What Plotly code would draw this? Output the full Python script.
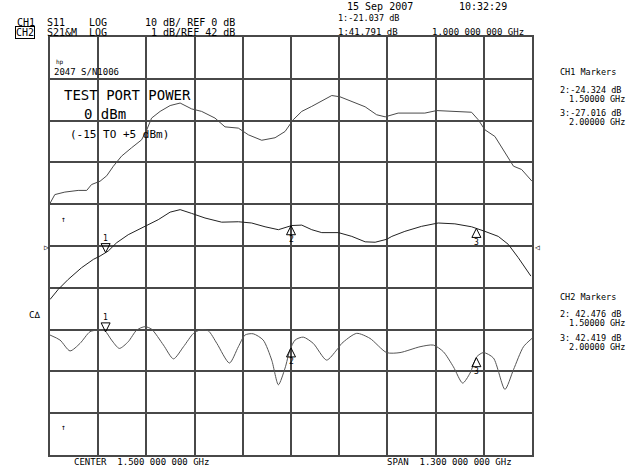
import numpy as np
import plotly.graph_objects as go

# ---------------- data ----------------
center_ghz = 1.5
span_ghz = 1.3
f_start = center_ghz - span_ghz / 2
f_stop = center_ghz + span_ghz / 2

# CH1 (10 dB/div, REF 0 dB) - upper trace
ch1_a_freq = [0.850, 0.863, 0.890, 0.926, 0.949, 0.962, 0.985, 1.003, 1.021, 1.043,
              1.070, 1.097, 1.111, 1.124, 1.147, 1.174, 1.201, 1.232, 1.259, 1.295,
              1.322, 1.358, 1.385, 1.421, 1.457, 1.484, 1.506, 1.529, 1.556, 1.587,
              1.610, 1.632, 1.664, 1.700, 1.731, 1.754, 1.789, 1.826, 1.861, 1.893,
              1.933, 1.969, 1.987, 2.005, 2.023, 2.050, 2.077, 2.100, 2.122, 2.150]
ch1_a_db = [10.2, 12.3, 12.9, 13.3, 13.3, 14.7, 15.5, 16.8, 19.1, 21.5,
            23.5, 25.4, 27.8, 30.6, 32.2, 33.6, 34.2, 32.8, 32.2, 30.6,
            28.5, 28.2, 26.6, 25.3, 25.9, 27.4, 30.2, 32.2, 33.4, 35.0,
            36.0, 35.7, 34.6, 33.3, 31.4, 30.9, 31.8, 31.8, 31.8, 32.4,
            32.2, 32.2, 32.0, 30.2, 27.8, 26.2, 22.3, 19.1, 18.3, 15.5]

# CH1 - middle trace (markers 1..3)
ch1_b_freq = [0.850, 0.872, 0.899, 0.935, 0.967, 0.985, 1.007, 1.030, 1.061, 1.097,
              1.142, 1.174, 1.201, 1.232, 1.268, 1.313, 1.358, 1.394, 1.430, 1.466,
              1.502, 1.529, 1.556, 1.583, 1.628, 1.664, 1.700, 1.727, 1.758, 1.772,
              1.807, 1.852, 1.897, 1.942, 1.987, 2.023, 2.059, 2.086, 2.113, 2.147]
ch1_b_db = [-12.8, -10.4, -8.0, -5.2, -3.2, -2.4, -1.2, 0.8, 2.7, 4.3,
            6.3, 8.1, 8.7, 7.8, 6.7, 5.7, 5.8, 5.5, 4.6, 3.9,
            4.9, 5.0, 3.9, 3.2, 3.2, 2.3, 1.0, 0.9, 1.6, 2.3,
            3.5, 4.7, 5.5, 5.3, 4.6, 3.5, 2.3, 0.4, -2.8, -7.2]

# CH2 S21 (1 dB/div, REF 42 dB)
ch2_freq = [0.850, 0.877, 0.904, 0.931, 0.958, 0.980, 0.998, 1.016, 1.037, 1.061,
            1.084, 1.106, 1.124, 1.156, 1.183, 1.210, 1.237, 1.255, 1.277, 1.300,
            1.334, 1.358, 1.376, 1.398, 1.425, 1.448, 1.466, 1.484, 1.497, 1.511,
            1.533, 1.560, 1.596, 1.623, 1.637, 1.677, 1.713, 1.758, 1.794, 1.848,
            1.884, 1.911, 1.938, 1.963, 1.983, 2.001, 2.019, 2.046, 2.077, 2.100,
            2.127, 2.150]
ch2_db = [41.87, 41.75, 41.49, 41.67, 41.95, 41.99, 41.97, 41.75, 41.55, 41.71,
          41.99, 42.07, 42.01, 41.63, 41.30, 41.59, 41.91, 41.99, 41.97, 41.67,
          41.20, 41.59, 41.87, 41.90, 41.75, 41.27, 40.68, 41.08, 41.51, 41.75,
          41.82, 41.67, 41.27, 41.51, 41.67, 41.91, 41.79, 41.45, 41.45, 41.59,
          41.63, 41.47, 41.11, 40.72, 40.96, 41.35, 41.45, 41.32, 40.57, 41.04,
          41.59, 41.79]

marker_freq = [1.0, 1.5, 2.0]
marker_label = ["1", "2", "3"]

# ---------------- layout constants ----------------
W, H = 639, 468
L, R, T, B = 50, 532, 37, 455
MONO = "DejaVu Sans Mono"
GRID = "#484848"


def px(x):
    return (x - L) / (R - L)


def py(y):
    return (B - y) / (B - T)


fig = go.Figure()
fig.add_trace(go.Scatter(x=ch1_a_freq, y=ch1_a_db, mode="lines",
                         line=dict(color="#4a4a4a", width=1), yaxis="y"))
fig.add_trace(go.Scatter(x=ch1_b_freq, y=ch1_b_db, mode="lines",
                         line=dict(color="#222222", width=1), yaxis="y"))
fig.add_trace(go.Scatter(x=ch2_freq, y=ch2_db, mode="lines",
                         line=dict(color="#555555", width=1, shape="spline", smoothing=0.7),
                         yaxis="y2"))

shapes = []
annotations = []


def add_marker(f, label, yval, yref, down):
    if down:
        path = "M0,0 L-4.5,9 L4.5,9 Z"
        shift = 14
    else:
        path = "M0,0 L-4.5,-9 L4.5,-9 Z"
        shift = -14
    shapes.append(dict(type="path", path=path, xref="x", yref=yref,
                       xsizemode="pixel", ysizemode="pixel",
                       xanchor=f, yanchor=yval,
                       line=dict(color="#000", width=1), fillcolor="rgba(0,0,0,0)"))
    annotations.append(dict(x=f, y=yval, xref="x", yref=yref, text=label,
                            showarrow=False, yshift=shift,
                            font=dict(family=MONO, size=8, color="#000")))


for i, f in enumerate(marker_freq):
    v1 = float(np.interp(f, ch1_b_freq, ch1_b_db))
    add_marker(f, marker_label[i], v1, "y", i == 0)
    v2 = float(np.interp(f, ch2_freq, ch2_db))
    add_marker(f, marker_label[i], v2, "y2", i == 0)


def txt(x, y, s, size=9.5, boxed=False, family=MONO):
    d = dict(x=px(x), y=py(y), xref="paper", yref="paper", text=s,
             showarrow=False, xanchor="left", yanchor="middle",
             font=dict(family=family, size=size, color="#000"))
    if boxed:
        d.update(bordercolor="#000", borderwidth=1, borderpad=0)
    annotations.append(d)


txt(345, 7, "15 Sep 2007", 10)
txt(457, 7, "10:32:29", 10)
txt(15, 22, "CH1", 10)
txt(45, 22, "S11", 10)
txt(87, 22, "LOG", 10)
txt(143, 22, "10 dB/ REF 0 dB", 10)
txt(15, 32, "CH2", 10, boxed=True)
txt(45, 32, "S21&M", 10)
txt(87, 32, "LOG", 10)
txt(149, 32, "1 dB/REF 42 dB", 10)
txt(336, 18, "1:-21.037 dB", 8.5)
txt(336, 32, "1:41.791 dB", 9)
txt(430, 32, "1.000 000 000 GHz", 9)

txt(54, 62, "hp", 6)
txt(52, 72, "2047 S/N1006", 9)
txt(62, 95, "TEST PORT POWER", 14)
txt(82, 114, "0 dBm", 14)
txt(68, 134, "(-15 TO +5 dBm)", 11)

txt(558, 72, "CH1 Markers", 8.5)
txt(558, 90, "2:-24.324 dB", 8.5)
txt(567, 99, "1.50000 GHz", 8.5)
txt(558, 113, "3:-27.016 dB", 8.5)
txt(567, 122, "2.00000 GHz", 8.5)
txt(558, 297, "CH2 Markers", 8.5)
txt(558, 314, "2: 42.476 dB", 8.5)
txt(567, 323, "1.50000 GHz", 8.5)
txt(558, 338, "3: 42.419 dB", 8.5)
txt(567, 347, "2.00000 GHz", 8.5)

txt(59, 219, "↑", 8)
txt(42, 247, "▷", 8)
txt(533, 247, "◁", 8)
txt(27, 315, "C∆", 9)
txt(59, 427, "↑", 8)

txt(72, 462, "CENTER  1.500 000 000 GHz", 9)
txt(385, 462, "SPAN  1.300 000 000 GHz", 9)

fig.update_layout(
    width=W, height=H, autosize=False,
    margin=dict(l=L, r=W - R, t=T, b=H - B, pad=0),
    paper_bgcolor="white", plot_bgcolor="white",
    showlegend=False,
    xaxis=dict(range=[f_start, f_stop], tick0=f_start, dtick=span_ghz / 10,
               showgrid=True, gridcolor=GRID, gridwidth=1.5, zeroline=False,
               showticklabels=False, ticks="", showline=True, mirror=True,
               linecolor=GRID, linewidth=1.5),
    yaxis=dict(range=[-50, 50], dtick=10, tick0=0,
               showgrid=True, gridcolor=GRID, gridwidth=1.5, zeroline=False,
               showticklabels=False, ticks="", showline=True, mirror=True,
               linecolor=GRID, linewidth=1.5),
    yaxis2=dict(range=[39, 49], overlaying="y", showgrid=False, zeroline=False,
                showticklabels=False, ticks="", showline=False, visible=False),
    shapes=shapes,
    annotations=annotations,
)

fig.write_html("out.html",
               config={"displayModeBar": False},
               post_script="document.body.style.margin='0';document.body.style.overflow='hidden';")
